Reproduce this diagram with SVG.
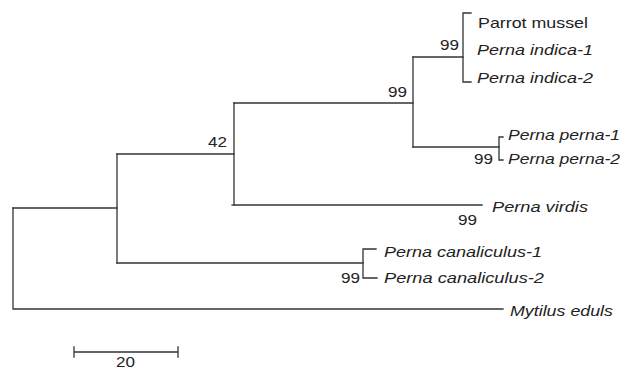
<svg xmlns="http://www.w3.org/2000/svg" width="625" height="371" viewBox="0 0 625 371">
<style>
.br{fill:none;stroke:#333;stroke-width:1.3;stroke-linecap:square}
text{font-family:"Liberation Sans",Arial,sans-serif;font-size:15px;fill:#222}
.it{font-style:italic}
</style>
<rect width="625" height="371" fill="#fff"/>
<g id="connectors" class="br">
<path d="M13,208V309H503"/>
<path d="M13,208H117"/>
<path d="M117,154V263"/>
<path d="M117,154H234"/>
<path d="M234,103V205H482"/>
<path d="M232,205H234"/>
<path d="M234,103H413"/>
<path d="M413,57V147"/>
<path d="M413,57H463"/>
<path d="M471,13H463V82H471"/>
<path d="M413,147H499"/>
<path d="M503,137H499V160H503"/>
<path d="M117,263H363"/>
<path d="M376,249H363V278H377"/>
</g>
<g id="n-parrot"><text x="478" y="28" textLength="110" lengthAdjust="spacingAndGlyphs">Parrot mussel</text></g>
<g id="n-indica1"><text class="it" x="477" y="55" textLength="116" lengthAdjust="spacingAndGlyphs">Perna indica-1</text></g>
<g id="n-indica2"><text class="it" x="477" y="83" textLength="116" lengthAdjust="spacingAndGlyphs">Perna indica-2</text></g>
<g id="n-perna1"><text class="it" x="508" y="140" textLength="112" lengthAdjust="spacingAndGlyphs">Perna perna-1</text></g>
<g id="n-perna2"><text class="it" x="508" y="164" textLength="112" lengthAdjust="spacingAndGlyphs">Perna perna-2</text></g>
<g id="n-virdis"><text class="it" x="492" y="212" textLength="96" lengthAdjust="spacingAndGlyphs">Perna virdis</text></g>
<g id="n-canal1"><text class="it" x="384" y="257" textLength="158" lengthAdjust="spacingAndGlyphs">Perna canaliculus-1</text></g>
<g id="n-canal2"><text class="it" x="384" y="283" textLength="160" lengthAdjust="spacingAndGlyphs">Perna canaliculus-2</text></g>
<g id="n-mytilus"><text class="it" x="510" y="316" textLength="103" lengthAdjust="spacingAndGlyphs">Mytilus eduls</text></g>
<g id="bootstrap">
<text x="440" y="50" textLength="19" lengthAdjust="spacingAndGlyphs">99</text>
<text x="388" y="97" textLength="19" lengthAdjust="spacingAndGlyphs">99</text>
<text x="208" y="147" textLength="19" lengthAdjust="spacingAndGlyphs">42</text>
<text x="474" y="164" textLength="19" lengthAdjust="spacingAndGlyphs">99</text>
<text x="458" y="225" textLength="19" lengthAdjust="spacingAndGlyphs">99</text>
<text x="341" y="283" textLength="19" lengthAdjust="spacingAndGlyphs">99</text>
</g>
<g id="scale">
<path class="br" d="M74,352H178M74,347V357M178,347V357"/>
<text x="116" y="367" textLength="19" lengthAdjust="spacingAndGlyphs">20</text>
</g>
</svg>
